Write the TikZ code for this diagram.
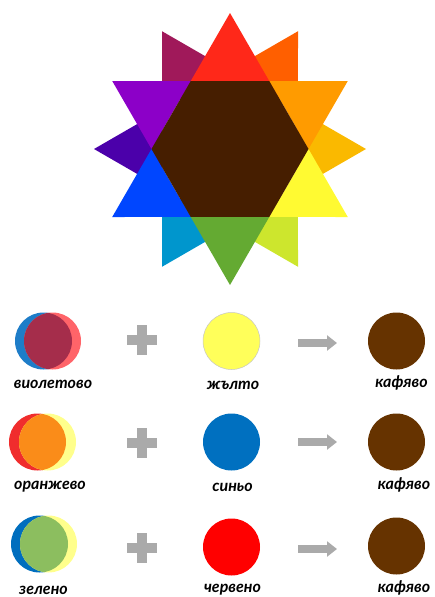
\documentclass[tikz,border=0pt]{standalone}
\usepackage{fontspec}
\newfontfamily\labelfont{Lato}[Script=Cyrillic, Language=Bulgarian]
\usetikzlibrary{arrows.meta}
% star colours
\definecolor{tipred}{RGB}{255,40,25}
\definecolor{tiporange}{RGB}{255,155,0}
\definecolor{tipyellow}{RGB}{255,250,50}
\definecolor{tipgreen}{RGB}{100,170,50}
\definecolor{tipblue}{RGB}{0,70,255}
\definecolor{tipviolet}{RGB}{140,0,200}
\definecolor{rotmaroon}{RGB}{160,25,90}
\definecolor{rotredorange}{RGB}{255,95,0}
\definecolor{rotamber}{RGB}{250,185,0}
\definecolor{rotlime}{RGB}{205,230,45}
\definecolor{rotcyan}{RGB}{0,150,205}
\definecolor{rotindigo}{RGB}{75,0,170}
\definecolor{hexbrown}{RGB}{70,30,0}
% mixing rows
\definecolor{mixblue}{RGB}{30,125,200}
\definecolor{mixpink}{RGB}{255,100,105}
\definecolor{mixmaroon}{RGB}{165,45,75}
\definecolor{mixred}{RGB}{240,45,45}
\definecolor{mixpaleyellow}{RGB}{255,255,140}
\definecolor{mixorange}{RGB}{250,140,25}
\definecolor{mixdeepblue}{RGB}{0,110,190}
\definecolor{mixgreen}{RGB}{140,190,95}
\definecolor{paintyellow}{RGB}{255,255,90}
\definecolor{paintblue}{RGB}{0,112,192}
\definecolor{paintred}{RGB}{255,0,0}
\definecolor{paintbrown}{RGB}{102,51,0}
\definecolor{signgray}{RGB}{170,170,170}

\begin{document}
\begin{tikzpicture}[
  x=1pt, y=-1pt,
  blob/.style={circle, minimum size=57pt, inner sep=0pt},
  colname/.style={font=\labelfont\bfseries\itshape\fontsize{16}{18}\selectfont, inner sep=0pt},
  sign/.style={fill=signgray},
  >={Triangle[length=10pt,width=15pt]}
]
\useasboundingbox (0,0) rectangle (434,597);
\clip (0,0) rectangle (434,597);

% colour star: back star first, then front star and centre
\begin{scope}[shift={(230,149)}, yscale=-1]
  \foreach \ang/\col in {120/rotmaroon, 60/rotredorange, 0/rotamber,
                         300/rotlime, 240/rotcyan, 180/rotindigo}
    \fill[\col] (\ang:136) -- (\ang+30:78.5) -- (\ang-30:78.5) -- cycle;
  \foreach \ang/\col in {90/tipred, 30/tiporange, 330/tipyellow,
                         270/tipgreen, 210/tipblue, 150/tipviolet}
    \fill[\col] (\ang:136) -- (\ang+30:78.5) -- (\ang-30:78.5) -- cycle;
  \fill[hexbrown] (0:78.5) -- (60:78.5) -- (120:78.5) -- (180:78.5)
    -- (240:78.5) -- (300:78.5) -- cycle;
\end{scope}

% row 1: violet + yellow -> brown
\node[blob, fill=mixblue] (m1a) at (43.5,341) {};
\node[blob, fill=mixpink] (m1b) at (52.5,341) {};
\begin{scope}
  \clip (m1a.center) circle (28.5);
  \fill[mixmaroon] (m1b.center) circle (28.5);
\end{scope}
\node[blob, fill=paintyellow, draw=gray!45, line width=0.5pt] (p1) at (231.5,341) {};
\node[blob, fill=paintbrown] (r1) at (396.5,341) {};
\node[colname] (l1) at (53,384) {виолетово};
\node[colname] (k1) at (233,385) {жълто};
\node[colname] (b1) at (401.5,383) {кафяво};

% row 2: orange + blue -> brown
\node[blob, fill=mixred] (m2a) at (37.5,442) {};
\node[blob, fill=mixpaleyellow] (m2b) at (47.5,442) {};
\begin{scope}
  \clip (m2a.center) circle (28.5);
  \fill[mixorange] (m2b.center) circle (28.5);
\end{scope}
\node[blob, fill=paintblue] (p2) at (231.5,442) {};
\node[blob, fill=paintbrown] (r2) at (396.5,442) {};
\node[colname] (l2) at (50,487) {оранжево};
\node[colname] (k2) at (232.5,487) {синьо};
\node[colname] (b2) at (404,485) {кафяво};

% row 3: green + red -> brown
\node[blob, fill=mixdeepblue] (m3a) at (39.5,544) {};
\node[blob, fill=mixpaleyellow] (m3b) at (48.5,544) {};
\begin{scope}
  \clip (m3a.center) circle (28.5);
  \fill[mixgreen] (m3b.center) circle (28.5);
\end{scope}
\node[blob, fill=paintred] (p3) at (231.5,547) {};
\node[blob, fill=paintbrown] (r3) at (396.5,546) {};
\node[colname] (l3) at (43.5,590) {зелено};
\node[colname] (k3) at (232.5,590) {червено};
\node[colname] (b3) at (404,588) {кафяво};

% plus signs and arrows
\foreach \y/\ya in {340/343, 443/442, 548/549} {
  \fill[sign] (127,\y-5) rectangle ++(30,10);
  \fill[sign] (137,\y-15) rectangle ++(10,30);
  \draw[signgray, line width=8pt, ->] (298,\ya) -- (337,\ya);
}
\end{tikzpicture}
\end{document}
